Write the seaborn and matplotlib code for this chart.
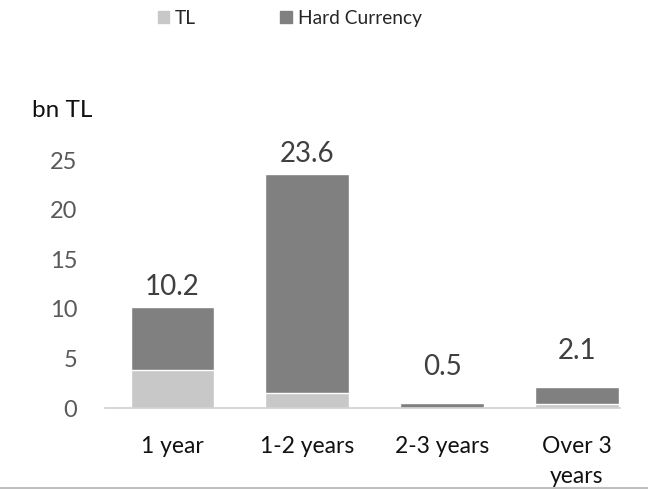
import seaborn as sns
import matplotlib.pyplot as plt
import pandas as pd
from matplotlib.patches import Patch
from matplotlib.lines import Line2D

# data (bn TL)
categories = ["1 year", "1-2 years", "2-3 years", "Over 3\nyears"]
tl_values = [3.8, 1.5, 0.05, 0.4]
hard_currency = [6.4, 22.1, 0.45, 1.7]

df = pd.DataFrame({"maturity": categories, "TL": tl_values, "Hard Currency": hard_currency})
df["total"] = df["TL"] + df["Hard Currency"]

sns.set_style("white")
plt.rcParams["font.family"] = ["Lato", "DejaVu Sans"]

fig = plt.figure(figsize=(6.48, 4.9), dpi=100)
ax = fig.add_axes([0.162, 0.1673, 0.795, 0.506])

tl_color = "#c8c8c8"
hc_color = "#808080"

# total bar in hard-currency colour, TL drawn on top from zero
sns.barplot(data=df, x="maturity", y="total", color=hc_color, width=0.62,
            saturation=1, ax=ax)
sns.barplot(data=df, x="maturity", y="TL", color=tl_color, width=0.62,
            saturation=1, ax=ax)

# excel-style labels: small bars get a bit more headroom
for i, tot in enumerate(df["total"]):
    off = 1.2 if tot > 5 else 2.8
    ax.text(i, tot + off, f"{tot:.1f}", ha="center", va="baseline",
            fontsize=20, color="#404040", clip_on=False)

ax.set_ylim(0, 25)
ax.set_yticks([0, 5, 10, 15, 20, 25])
ax.set_xlim(-0.5, 3.32)
ax.set_xlabel("")
ax.set_ylabel("")
ax.tick_params(axis="y", labelsize=17, labelcolor="#595959", pad=20, length=0)
ax.tick_params(axis="x", labelsize=16.5, labelcolor="#111111", pad=20, length=0)
for lbl in ax.get_xticklabels():
    lbl.set_linespacing(1.55)

for side in ["top", "right", "left"]:
    ax.spines[side].set_visible(False)
ax.spines["bottom"].set_color("#d0d0d0")
ax.spines["bottom"].set_linewidth(1.2)

fig.text(0.05, 0.775, "bn TL", fontsize=17.5, color="#111111", va="center")

handles = [Patch(color=tl_color, label="TL"), Patch(color=hc_color, label="Hard Currency")]
fig.legend(handles=handles, loc="center", bbox_to_anchor=(0.447, 0.963), ncol=2,
           frameon=False, fontsize=13.8, handlelength=0.6, handleheight=0.6,
           handletextpad=0.3, columnspacing=4.4, borderpad=0, borderaxespad=0)

fig.add_artist(Line2D([0, 1], [0.004, 0.004], color="#c0c0c0", linewidth=1.5,
                      transform=fig.transFigure))

fig.savefig("out.png", dpi=100)
